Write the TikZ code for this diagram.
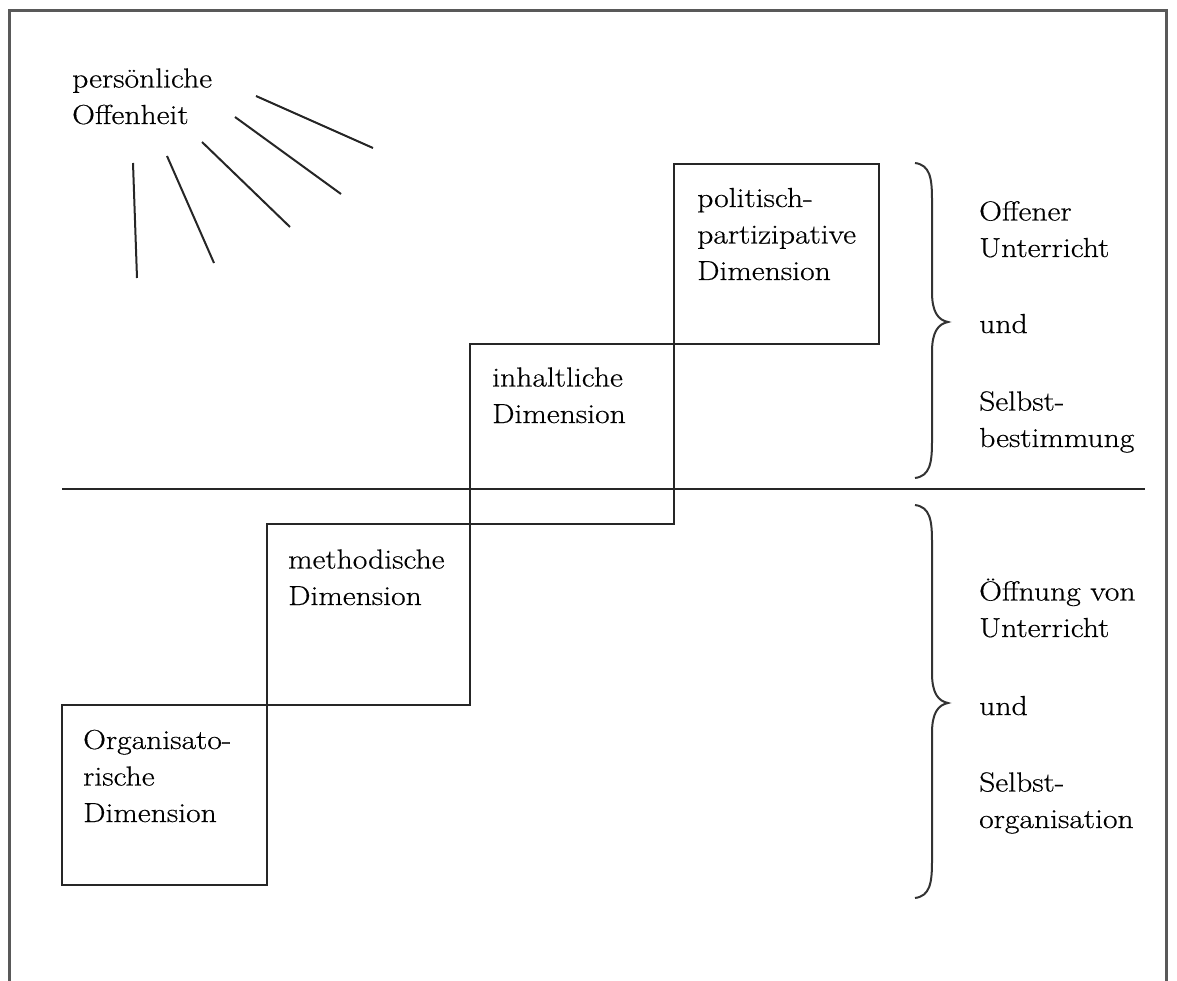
\documentclass[tikz,border=0pt]{standalone}
\usepackage{fontspec}
\newfontfamily\lblfont{Latin Modern Roman}[FakeStretch=1.15,FakeBold=0.5]
\begin{document}
\begin{tikzpicture}[x=1pt,y=-1pt,
  line/.style={line width=2pt,draw=black!85},
  stepbox/.style={line width=2pt,draw=black!85},
  lbl/.style={anchor=base west,inner sep=0pt,align=left,font=\lblfont\fontsize{27.5}{36.5}\selectfont},
  frame/.style={line width=3pt,draw=black!65},
  brace/.style={line width=2pt,draw=black!80}]
\useasboundingbox (0,0) rectangle (1177,981);
% frame
\draw[frame] (9,981) -- (9,11) -- (1166,11) -- (1166,981);
% boxes
\draw[stepbox] (62,705) rectangle (267,885);
\draw[stepbox] (267,524) rectangle (470,705);
\draw[stepbox] (470,344) rectangle (674,524);
\draw[stepbox] (674,164) rectangle (879,344);
% separator
\draw[line] (62,489) -- (1145,489);
% sun rays
\draw[line] (133,163) -- (137,278);
\draw[line] (167,156) -- (214,263);
\draw[line] (202,142) -- (290,227);
\draw[line] (235,117) -- (341,194);
\draw[line] (256,96) -- (373,148);
% texts (anchored at the baseline of the last line)
\node[lbl] (po) at (72,124) {persönliche\\Offenheit};
\node[lbl] (pp) at (697,280) {politisch-\\partizipative\\Dimension};
\node[lbl] (ih) at (492,423) {inhaltliche\\Dimension};
\node[lbl] (me) at (288,605) {methodische\\Dimension};
\node[lbl] (or) at (83,822) {Organisato-\\rische\\Dimension};
\node[lbl] (ou1) at (979,257) {Offener\\Unterricht};
\node[lbl] (und1) at (979,333) {und};
\node[lbl] (sb) at (979,447) {Selbst-\\bestimmung};
\node[lbl] (ou2) at (979,637) {Öffnung von\\Unterricht};
\node[lbl] (und2) at (979,715) {und};
\node[lbl] (so) at (979,828) {Selbst-\\organisation};
% braces
\draw[brace] (915,163) .. controls (930,165) and (932,178) .. (932,200)
  -- (932,292) .. controls (932,312) and (938,320) .. (948,322)
  .. controls (938,324) and (932,332) .. (932,352)
  -- (932,441) .. controls (932,463) and (930,476) .. (915,478);
\draw[brace] (915,505) .. controls (930,507) and (932,520) .. (932,542)
  -- (932,673) .. controls (932,693) and (938,701) .. (948,703)
  .. controls (938,705) and (932,713) .. (932,733)
  -- (932,861) .. controls (932,883) and (930,896) .. (915,898);
\end{tikzpicture}
\end{document}
